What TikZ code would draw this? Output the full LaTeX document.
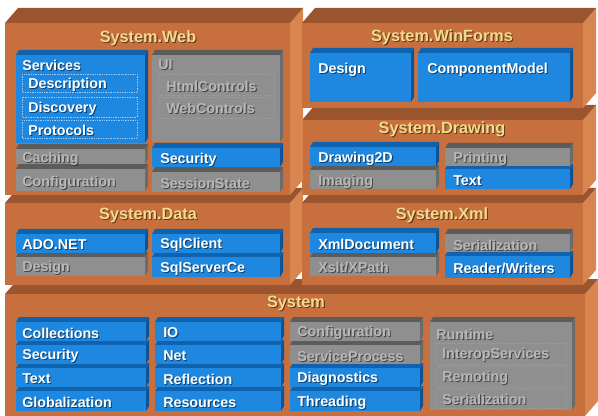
\documentclass[tikz,border=0pt]{standalone}
\usepackage{fontspec}
\setmainfont{Liberation Sans}
\usepackage{xcolor}
\usepackage{tikz}

\definecolor{BrickFront}{HTML}{C7703E}
\definecolor{BrickTop}{HTML}{9A552F}
\definecolor{BrickSide}{HTML}{D8854F}
\definecolor{BlueFront}{HTML}{1E88E0}
\definecolor{BlueTop}{HTML}{0F62AE}
\definecolor{BlueSide}{HTML}{0C5399}
\definecolor{GreyFront}{HTML}{8F8F8F}
\definecolor{GreyTop}{HTML}{5C5C5C}
\definecolor{GreySide}{HTML}{6B6B6B}
\definecolor{TitleInk}{HTML}{F3DB8E}
\definecolor{GreyInk}{HTML}{B8B8B8}

% a box seen from the front: front face (#1,#2)-(#3,#4), depth (#5,#6), palette #7
\newcommand{\slab}[7]{%
  \fill[#7Side] (#3,#2) -- ++(#5,-#6) -- ++(0,#4-#2) -- (#3,#4) -- cycle;
  \fill[#7Top] (#1,#2) -- ++(#5,-#6) -- ++(#3-#1,0) -- (#3,#2) -- cycle;
  \fill[#7Front] (#1,#2) rectangle (#3,#4);}

% embossed label: name, x, y, style, text
\newcommand{\boxtext}[5]{%
  \node[#4, text=black, opacity=.5, xshift=.8pt, yshift=-.8pt] at (#2,#3) {#5};
  \node[#4] (#1) at (#2,#3) {#5};}

\begin{document}
\begin{tikzpicture}[x=0.75pt, y=-0.75pt,
                    lbl/.style={anchor=west, inner sep=0pt, yshift=-1.1pt,
                                font=\fontsize{10.7}{12}\selectfont\bfseries},
                    onblue/.style={lbl, text=white},
                    ongrey/.style={lbl, text=GreyInk},
                    heading/.style={inner sep=0pt, text=TitleInk, yshift=-.5pt,
                                    font=\fontsize{12.2}{14}\selectfont\bfseries},
                    cell/.style={draw=#1, densely dotted, line width=0.3pt}]
\useasboundingbox (0,0) rectangle (598,416);

% outer namespaces, lowest first
\slab{5}{294}{585}{416}{13}{15}{Brick}
\slab{5}{203}{290}{285}{13}{15}{Brick}
\slab{302}{203}{583}{285}{13}{15}{Brick}
\slab{302}{120}{583}{195}{13}{15}{Brick}
\slab{5}{23}{290}{195}{13}{15}{Brick}
\slab{302}{23}{583}{108}{13}{15}{Brick}

% System.Web
\boxtext{web}{148}{38}{heading}{System.Web}
\slab{16}{55}{145}{143}{3}{5}{Blue}
\slab{152}{55}{280}{142}{3}{5}{Grey}
\slab{16}{169}{145}{191}{3}{5}{Grey}
\slab{16}{149}{145}{164}{3}{5}{Grey}
\slab{152}{172}{280}{192}{3}{5}{Grey}
\slab{152}{148}{280}{167}{3}{5}{Blue}
\foreach \ya/\yb in {74/92, 97/117, 120/138}
  \draw[cell=BlueFront!45!white] (22,\ya) rectangle (137,\yb);
\foreach \ya/\yb in {74/95, 97/118}
  \draw[cell=GreyFront!88!white] (158,\ya) rectangle (274,\yb);
\boxtext{services}{22}{64}{onblue}{Services}
\boxtext{description}{28}{83}{onblue}{Description}
\boxtext{discovery}{28}{107}{onblue}{Discovery}
\boxtext{protocols}{28}{129}{onblue}{Protocols}
\boxtext{ui}{158}{63}{ongrey}{UI}
\boxtext{htmlctl}{166}{85}{ongrey}{HtmlControls}
\boxtext{webctl}{166}{107}{ongrey}{WebControls}
\boxtext{caching}{22}{157}{ongrey}{Caching}
\boxtext{webconfig}{22}{181}{ongrey}{Configuration}
\boxtext{websec}{160}{158}{onblue}{Security}
\boxtext{session}{160}{182}{ongrey}{SessionState}

% System.WinForms
\boxtext{winforms}{442}{37}{heading}{System.WinForms}
\slab{310}{53}{411}{102}{3}{5}{Blue}
\slab{418}{53}{570}{102}{3}{5}{Blue}
\boxtext{design}{318}{68}{onblue}{Design}
\boxtext{compmodel}{427}{68}{onblue}{ComponentModel}

% System.Drawing
\boxtext{drawing}{442}{129}{heading}{System.Drawing}
\slab{310}{170}{436}{189}{3}{5}{Grey}
\slab{310}{147}{436}{166}{3}{5}{Blue}
\slab{445}{169}{570}{189}{3}{5}{Blue}
\slab{445}{148}{570}{166}{3}{5}{Grey}
\boxtext{draw2d}{318}{157}{onblue}{Drawing2D}
\boxtext{imaging}{318}{180}{ongrey}{Imaging}
\boxtext{printing}{453}{157}{ongrey}{Printing}
\boxtext{drawtext}{453}{179}{onblue}{Text}

% System.Data
\boxtext{data}{148}{215}{heading}{System.Data}
\slab{16}{257}{145}{276}{3}{5}{Grey}
\slab{16}{234}{145}{253}{3}{5}{Blue}
\slab{152}{257}{280}{277}{3}{5}{Blue}
\slab{152}{234}{280}{253}{3}{5}{Blue}
\boxtext{adonet}{22}{243}{onblue}{ADO.NET}
\boxtext{datadesign}{22}{266}{ongrey}{Design}
\boxtext{sqlclient}{160}{243}{onblue}{SqlClient}
\boxtext{sqlce}{160}{267}{onblue}{SqlServerCe}

% System.Xml
\boxtext{xml}{442}{215}{heading}{System.Xml}
\slab{310}{257}{436}{276}{3}{5}{Grey}
\slab{310}{233}{436}{253}{3}{5}{Blue}
\slab{445}{256}{570}{278}{3}{5}{Blue}
\slab{445}{234}{570}{252}{3}{5}{Grey}
\boxtext{xmldoc}{318}{243}{onblue}{XmlDocument}
\boxtext{xslt}{318}{266}{ongrey}{Xslt/XPath}
\boxtext{xmlser}{453}{244}{ongrey}{Serialization}
\boxtext{readers}{453}{267}{onblue}{Reader/Writers}

% System
\boxtext{system}{296}{303}{heading}{System}
\foreach \txt/\ya/\yb [count=\i] in {Globalization/391/411, Text/368/387,
                                      Security/345/364, Collections/322/341}{
  \pgfmathsetmacro\ym{(\ya+\yb)/2}
  \slab{16}{\ya}{146}{\yb}{3}{5}{Blue}
  \boxtext{colA-\i}{22}{\ym}{onblue}{\txt}
}
\foreach \txt/\ya/\yb [count=\i] in {Resources/391/411, Reflection/368/387,
                                      Net/345/364, IO/322/341}{
  \pgfmathsetmacro\ym{(\ya+\yb)/2}
  \slab{155}{\ya}{281}{\yb}{3}{5}{Blue}
  \boxtext{colB-\i}{163}{\ym}{onblue}{\txt}
}
\foreach \txt/\ya/\yb/\pal/\ink [count=\i] in {Threading/391/411/Blue/onblue,
                                      Diagnostics/368/387/Blue/onblue,
                                      ServiceProcess/345/364/Grey/ongrey,
                                      Configuration/322/341/Grey/ongrey}{
  \pgfmathsetmacro\ym{(\ya+\yb)/2}
  \slab{290}{\ya}{420}{\yb}{3}{5}{\pal}
  \boxtext{colC-\i}{297}{\ym}{\ink}{\txt}
}
\slab{430}{322}{572}{410}{3}{5}{Grey}
\foreach \ya/\yb in {343/364, 366/387, 389/408}
  \draw[cell=GreyFront!88!white] (436,\ya) rectangle (566,\yb);
\boxtext{runtime}{436}{333}{ongrey}{Runtime}
\boxtext{interop}{442}{353}{ongrey}{InteropServices}
\boxtext{remoting}{442}{376}{ongrey}{Remoting}
\boxtext{rtser}{442}{398}{ongrey}{Serialization}
\end{tikzpicture}
\end{document}
